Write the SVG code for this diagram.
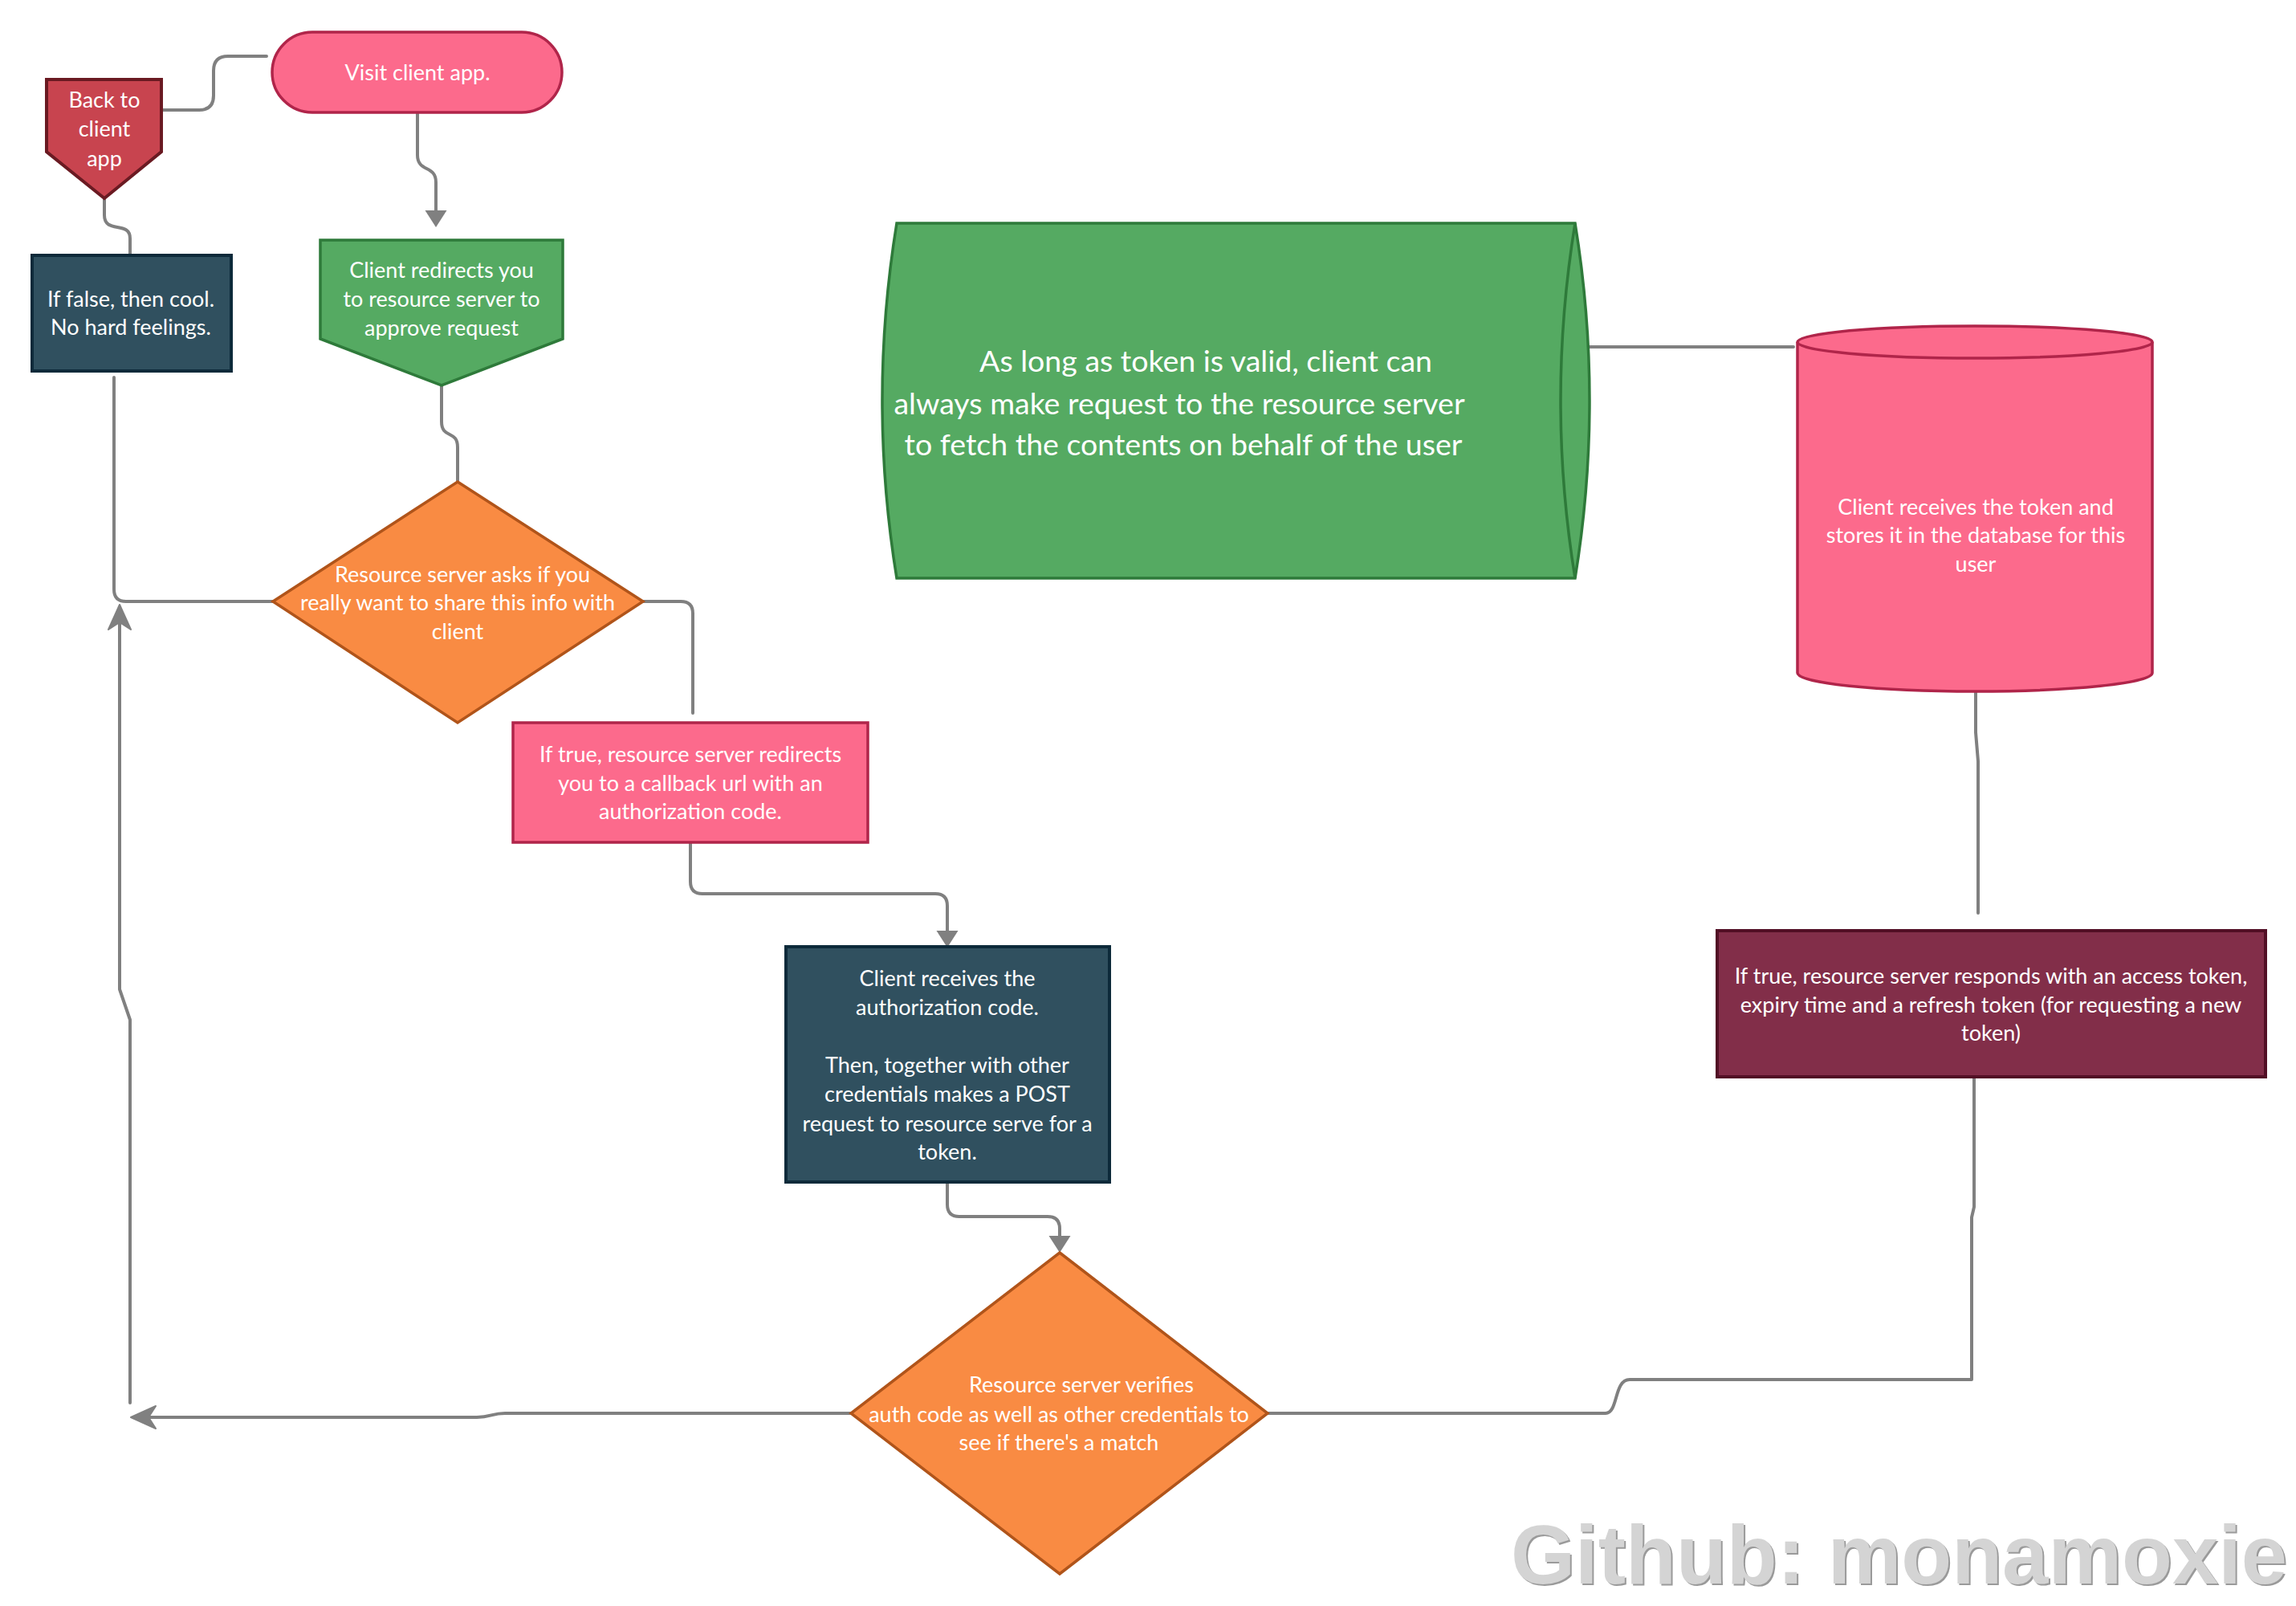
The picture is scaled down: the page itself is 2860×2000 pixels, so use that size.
<svg xmlns="http://www.w3.org/2000/svg" width="2860" height="2000" viewBox="0 0 2860 2000">
<defs>
<style>
.t{font-family:Lato,"Open Sans","Liberation Sans",sans-serif;font-size:27px;fill:#ffffff;text-anchor:middle}
.big{font-size:37.5px}
.c{fill:none;stroke:#808080;stroke-width:4;stroke-linejoin:round;stroke-linecap:round}
.pink{fill:#fc6a8c;stroke:#b0254a;stroke-width:3.5}
.green{fill:#55aa62;stroke:#2e7a3a;stroke-width:3.5}
.slate{fill:#30505f;stroke:#0d2a3a;stroke-width:4}
.orange{fill:#f98b43;stroke:#b0541a;stroke-width:3.5}
.red{fill:#c8444f;stroke:#6a1a22;stroke-width:4}
.maroon{fill:#822e49;stroke:#520f25;stroke-width:4}
.wm{font-family:"Liberation Sans",Arial,sans-serif;font-weight:bold;font-size:103px}
</style>
<marker id="tri" markerUnits="userSpaceOnUse" markerWidth="22" markerHeight="28" viewBox="0 0 22 28" refX="0" refY="14" orient="auto" overflow="visible">
<path d="M0,0.5 L21,14 L0,27.5 z" fill="#808080"/>
</marker>
<marker id="notch" markerUnits="userSpaceOnUse" markerWidth="32" markerHeight="30" viewBox="0 0 32 30" refX="9" refY="15" orient="auto" overflow="visible">
<path d="M0,1 L31,15 L0,29 L9,15 z" fill="#808080" stroke="#808080" stroke-width="2" stroke-linejoin="round"/>
</marker>
</defs>
<rect width="2860" height="2000" fill="#ffffff"/>

<g id="connectors">
<path class="c" d="M332,70 L284,70 Q266,70 266,88 L266,119 Q266,137 248,137 L201,137"/>
<path class="c" d="M520,141 L520,193 C520,215 543,205 543,227 L543,262" marker-end="url(#tri)"/>
<path class="c" d="M130,247 L130,268 C130,292 162,274 162,297 L162,318"/>
<path class="c" d="M550,480 L550,525 C550,547 570,535 570,557 L570,600"/>
<path class="c" d="M340,749 L157,749 Q142,749 142,734 L142,470"/>
<path class="c" d="M801,749 L848,749 Q863,749 863,764 L863,888"/>
<path class="c" d="M860,1049 L860,1098 Q860,1113 875,1113 L1165,1113 Q1180,1113 1180,1128 L1180,1159" marker-end="url(#tri)"/>
<path class="c" d="M1180,1472 L1180,1500 Q1180,1515 1195,1515 L1305,1515 Q1320,1515 1320,1530 L1320,1539" marker-end="url(#tri)"/>
<path class="c" d="M1060,1760 L629,1760 C612,1760 612,1765 594,1765 L185,1765" marker-end="url(#notch)"/>
<path class="c" d="M162,1747 L162,1270 L149,1232 L149,775" marker-end="url(#notch)"/>
<path class="c" d="M1579,1760 L2000,1760 C2016,1760 2010,1718 2030,1718 L2456,1718 L2456,1516 L2459,1503 L2459,1341"/>
<path class="c" d="M2461,861 L2461,912 L2464,948 L2464,1137"/>
<path class="c" d="M1979,432 L2234,432"/>
</g>

<g id="visit-client-app">
<rect class="pink" x="339" y="40" width="361" height="100" rx="50" ry="50"/>
<text class="t" x="520" y="100">Visit client app.</text>
</g>

<g id="back-to-client-app">
<polygon class="red" points="58,99 201,99 201,189 130,247 58,189"/>
<text class="t" x="130" y="134">Back to</text>
<text class="t" x="130" y="170">client</text>
<text class="t" x="130" y="207">app</text>
</g>

<g id="client-redirects">
<polygon class="green" points="399,299 701,299 701,422 550,480 399,422"/>
<text class="t" x="550" y="346">Client redirects you</text>
<text class="t" x="550" y="382">to resource server to</text>
<text class="t" x="550" y="418">approve request</text>
</g>

<g id="if-false">
<rect class="slate" x="40" y="318" width="248" height="144"/>
<text class="t" x="163" y="382">If false, then cool.</text>
<text class="t" x="163" y="417">No hard feelings.</text>
</g>

<g id="asks-share">
<polygon class="orange" points="570,600 801,749 570,900 340,749"/>
<text class="t" x="576" y="725">Resource server asks if you</text>
<text class="t" x="570" y="760">really want to share this info with</text>
<text class="t" x="570" y="796">client</text>
</g>

<g id="if-true-redirect">
<rect class="pink" x="639" y="900" width="442" height="149"/>
<text class="t" x="860" y="949">If true, resource server redirects</text>
<text class="t" x="860" y="985">you to a callback url with an</text>
<text class="t" x="860" y="1020">authorization code.</text>
</g>

<g id="client-receives-code">
<rect class="slate" x="979" y="1179" width="403" height="293"/>
<text class="t" x="1180" y="1228">Client receives the</text>
<text class="t" x="1180" y="1264">authorization code.</text>
<text class="t" x="1180" y="1336">Then, together with other</text>
<text class="t" x="1180" y="1372">credentials makes a POST</text>
<text class="t" x="1180" y="1409">request to resource serve for a</text>
<text class="t" x="1180" y="1444">token.</text>
</g>

<g id="verifies">
<polygon class="orange" points="1320,1560 1579,1760 1320,1960 1060,1760"/>
<text class="t" x="1347" y="1734">Resource server verifies</text>
<text class="t" x="1319" y="1771">auth code as well as other credentials to</text>
<text class="t" x="1319" y="1806">see if there's a match</text>
</g>

<g id="token-valid">
<path class="green" d="M1117,278 L1962,278 Q1998,499 1962,720 L1117,720 Q1081,499 1117,278 Z"/>
<path class="green" fill="none" d="M1962,278 Q1926,499 1962,720"/>
<text class="t big" x="1502" y="463">As long as token is valid, client can</text>
<text class="t big" x="1469" y="516">always make request to the resource server</text>
<text class="t big" x="1474" y="567">to fetch the contents on behalf of the user</text>
</g>

<g id="stores-token">
<path class="pink" d="M2239,426 L2239,838 A221,23 0 0 0 2681,838 L2681,426 A221,20 0 0 0 2239,426 Z"/>
<path class="pink" fill="none" d="M2239,426 A221,20 0 0 0 2681,426"/>
<text class="t" x="2461" y="641">Client receives the token and</text>
<text class="t" x="2461" y="676">stores it in the database for this</text>
<text class="t" x="2461" y="712">user</text>
</g>

<g id="responds-token">
<rect class="maroon" x="2139" y="1159" width="683" height="182"/>
<text class="t" x="2480" y="1225">If true, resource server responds with an access token,</text>
<text class="t" x="2480" y="1261">expiry time and a refresh token (for requesting a new</text>
<text class="t" x="2480" y="1296">token)</text>
</g>

<g id="watermark">
<text class="wm" x="1884" y="1974" fill="#9a9a9a">Github: monamoxie</text>
<text class="wm" x="1882" y="1972" fill="#d4d4d4">Github: monamoxie</text>
</g>
</svg>
